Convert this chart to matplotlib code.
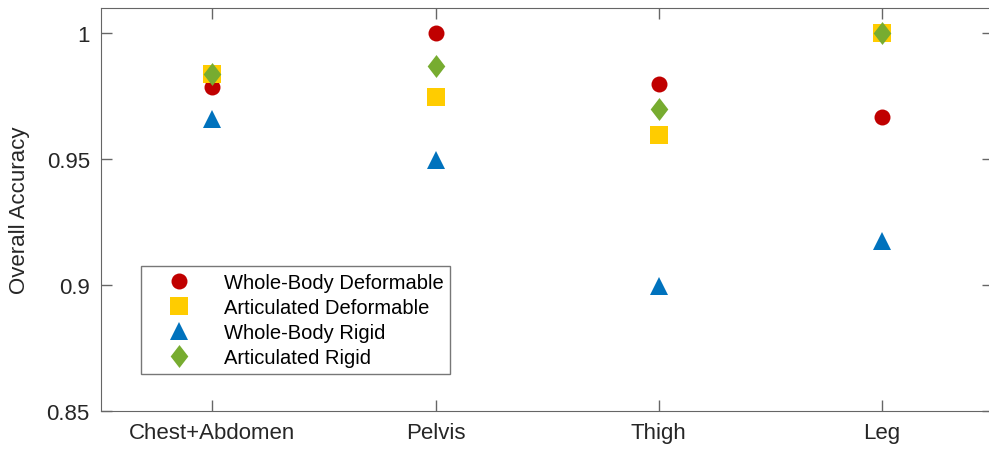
import matplotlib
matplotlib.use("Agg")
import matplotlib.pyplot as plt
from matplotlib.ticker import FuncFormatter
from matplotlib.path import Path

# data
regions = ["Chest+Abdomen", "Pelvis", "Thigh", "Leg"]
whole_body_deformable = [0.9786, 1.000, 0.9798, 0.9667]
articulated_deformable = [0.9837, 0.9746, 0.9595, 1.000]
whole_body_rigid = [0.9660, 0.9496, 0.8996, 0.9175]
articulated_rigid = [0.9840, 0.9870, 0.9700, 1.000]

# MATLAB-like diamond, a bit taller than wide
diamond = Path([(0, 1), (0.77, 0), (0, -1), (-0.77, 0), (0, 1)],
               [Path.MOVETO, Path.LINETO, Path.LINETO, Path.LINETO, Path.CLOSEPOLY])

series = [
    ("Whole-Body Deformable", whole_body_deformable, "o", "#C00000", 11.5),
    ("Articulated Deformable", articulated_deformable, "s", "#FFCC00", 13.5),
    ("Whole-Body Rigid", whole_body_rigid, "^", "#0072BD", 13),
    ("Articulated Rigid", articulated_rigid, diamond, "#77AC30", 16.5),
]

plt.rcParams["font.family"] = ["Liberation Sans", "DejaVu Sans"]

fig = plt.figure(figsize=(9.89, 4.56), dpi=100)
ax = fig.add_axes([0.1021, 0.0965, 0.902, 0.8835])

x = list(range(1, len(regions) + 1))
for name, vals, mk, col, ms in series:
    ax.plot(x, vals, linestyle="none", marker=mk, color=col, markersize=ms,
            markeredgewidth=0, label=name)

ax.set_xlim(0.5, 4.5)
ax.set_ylim(0.85, 1.01)
ax.set_xticks(x)
ax.set_xticklabels(regions)
ax.set_yticks([0.85, 0.9, 0.95, 1.0])
ax.yaxis.set_major_formatter(FuncFormatter(lambda v, p: "%g" % v))
ax.tick_params(direction="in", length=8, width=1, colors="#666666",
               labelcolor="#262626", labelsize=16, top=True, right=True, pad=8)
for s in ax.spines.values():
    s.set_color("#666666")
ax.set_ylabel("Overall Accuracy", fontsize=16, color="#262626", labelpad=12)

leg = ax.legend(loc="lower left", bbox_to_anchor=(0.045, 0.092), fontsize=14.5,
                frameon=True, fancybox=False, edgecolor="#555555",
                handlelength=3.1, handletextpad=0.65, labelspacing=0.3,
                borderpad=0.35, borderaxespad=0)
leg.get_frame().set_linewidth(1)

fig.savefig("out.png", dpi=100)
